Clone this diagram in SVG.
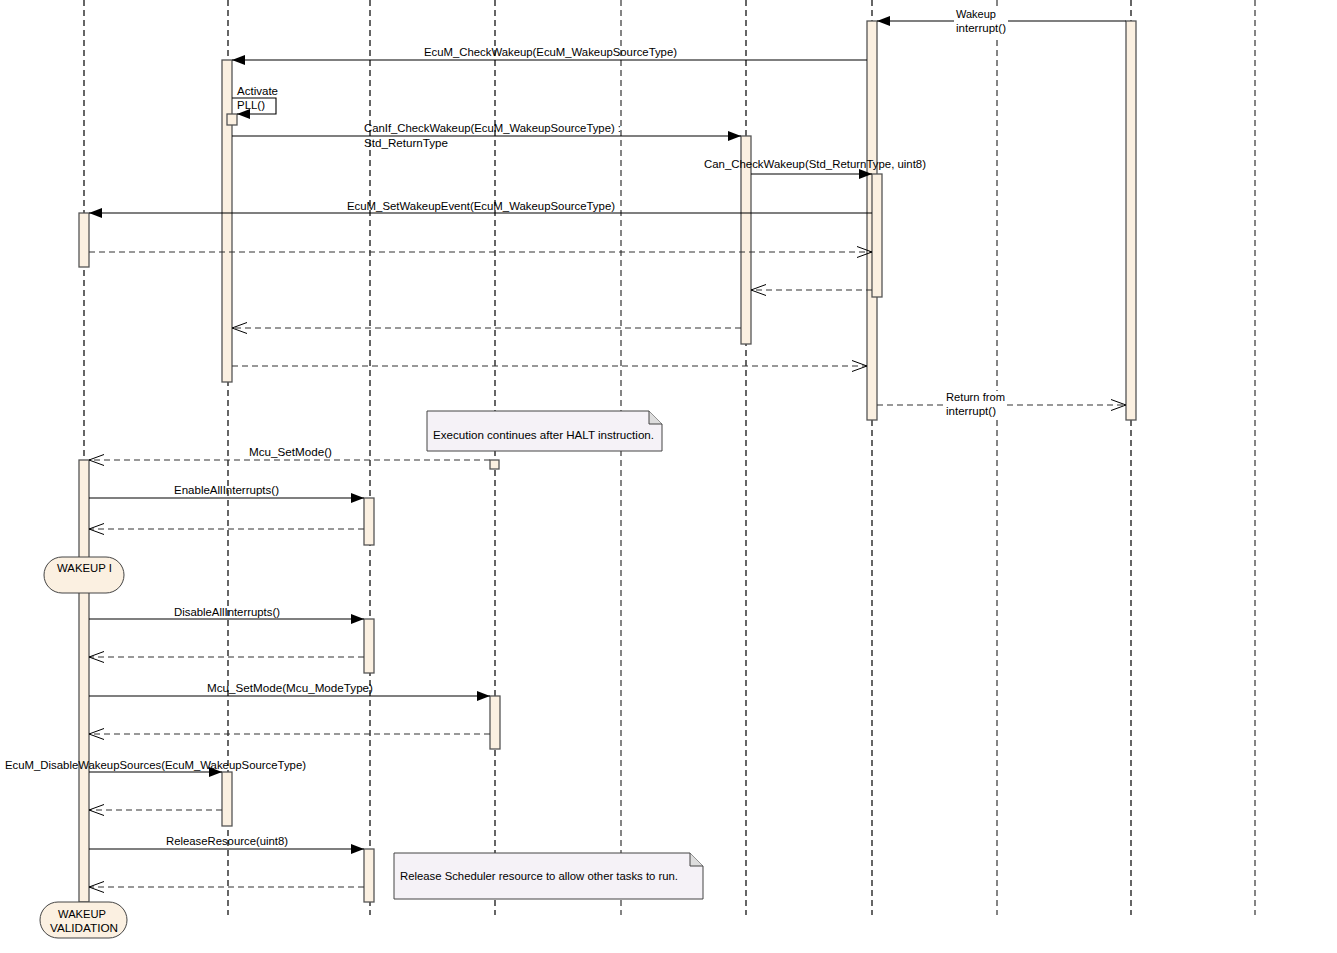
<svg xmlns="http://www.w3.org/2000/svg" width="1337" height="953" viewBox="0 0 1337 953">
<style>
text{font-family:"Liberation Sans",Arial,sans-serif;font-size:11px;fill:#000}
.ll{stroke:#000;stroke-width:1.2;stroke-dasharray:6,4;fill:none}
.llg{stroke:#666;stroke-width:1.6;stroke-dasharray:6,4;fill:none}
.act{fill:#FBF0E1;stroke:#555;stroke-width:1.3}
.msg{stroke:#000;stroke-width:1.1;fill:none}
.ret{stroke:#333;stroke-width:1.1;stroke-dasharray:6,4;fill:none}
.note{fill:#F5F2F7;stroke:#444;stroke-width:1}
.pill{fill:#FBF0E1;stroke:#444;stroke-width:1}
</style>
<defs>
<marker id="fa" markerWidth="14" markerHeight="10" refX="13" refY="5" orient="auto" markerUnits="userSpaceOnUse"><path d="M0,0 L13,5 L0,10 Z" fill="#000"/></marker>
<marker id="oa" markerWidth="16" markerHeight="12" refX="15" refY="6" orient="auto" markerUnits="userSpaceOnUse"><path d="M0,0.5 L15,6 L0,11.5" fill="none" stroke="#000" stroke-width="1"/></marker>
</defs>
<g id="lifelines">
<line class="ll" x1="84" y1="0" x2="84" y2="915"/>
<line class="ll" x1="228" y1="0" x2="228" y2="915"/>
<line class="ll" x1="370" y1="0" x2="370" y2="915"/>
<line class="ll" x1="495" y1="0" x2="495" y2="915"/>
<line class="llg" x1="621" y1="0" x2="621" y2="915"/>
<line class="ll" x1="746" y1="0" x2="746" y2="915"/>
<line class="ll" x1="872" y1="0" x2="872" y2="915"/>
<line class="llg" x1="997" y1="0" x2="997" y2="915"/>
<line class="ll" x1="1131" y1="0" x2="1131" y2="915"/>
<line class="llg" x1="1255" y1="0" x2="1255" y2="915"/>
</g>
<g id="activations">
<rect class="act" x="222" y="60" width="10" height="322"/>
<rect class="act" x="867" y="21" width="10" height="399"/>
<rect class="act" x="1126" y="21" width="10" height="399"/>
<rect class="act" x="741" y="136" width="10" height="208"/>
<rect class="act" x="872" y="174" width="10" height="123"/>
<rect class="act" x="79" y="213" width="10" height="54"/>
<rect class="act" x="227" y="114" width="10" height="11"/>
<rect class="act" x="79" y="460" width="10" height="442"/>
<rect class="act" x="490" y="460" width="9" height="9"/>
<rect class="act" x="364" y="498" width="10" height="47"/>
<rect class="act" x="364" y="619" width="10" height="54"/>
<rect class="act" x="490" y="696" width="10" height="53"/>
<rect class="act" x="222" y="772" width="10" height="54"/>
<rect class="act" x="364" y="849" width="10" height="53"/>
</g>
<g id="connectors">
<line class="msg" x1="1126" y1="21" x2="877" y2="21" marker-end="url(#fa)"/>
<line class="msg" x1="867" y1="60" x2="232" y2="60" marker-end="url(#fa)"/>
<path class="msg" d="M232,98 H276 V114 H237" marker-end="url(#fa)"/>
<line class="msg" x1="232" y1="136" x2="741" y2="136" marker-end="url(#fa)"/>
<line class="msg" x1="751" y1="174" x2="872" y2="174" marker-end="url(#fa)"/>
<line class="msg" x1="872" y1="213" x2="89" y2="213" marker-end="url(#fa)"/>
<line class="ret" x1="89" y1="252" x2="872" y2="252" marker-end="url(#oa)"/>
<line class="ret" x1="872" y1="290" x2="751" y2="290" marker-end="url(#oa)"/>
<line class="ret" x1="741" y1="328" x2="232" y2="328" marker-end="url(#oa)"/>
<line class="ret" x1="232" y1="366" x2="867" y2="366" marker-end="url(#oa)"/>
<line class="ret" x1="877" y1="405" x2="1126" y2="405" marker-end="url(#oa)"/>
<line class="ret" x1="490" y1="460" x2="89" y2="460" marker-end="url(#oa)"/>
<line class="msg" x1="89" y1="498" x2="364" y2="498" marker-end="url(#fa)"/>
<line class="ret" x1="364" y1="529" x2="89" y2="529" marker-end="url(#oa)"/>
<line class="msg" x1="89" y1="619" x2="364" y2="619" marker-end="url(#fa)"/>
<line class="ret" x1="364" y1="657" x2="89" y2="657" marker-end="url(#oa)"/>
<line class="msg" x1="89" y1="696" x2="490" y2="696" marker-end="url(#fa)"/>
<line class="ret" x1="490" y1="734" x2="89" y2="734" marker-end="url(#oa)"/>
<line class="msg" x1="89" y1="772" x2="222" y2="772" marker-end="url(#fa)"/>
<line class="ret" x1="222" y1="810" x2="89" y2="810" marker-end="url(#oa)"/>
<line class="msg" x1="89" y1="849" x2="364" y2="849" marker-end="url(#fa)"/>
<line class="ret" x1="364" y1="887" x2="89" y2="887" marker-end="url(#oa)"/>
</g>
<g id="labels">
<rect x="954" y="8" width="54" height="28" fill="#fff"/>
<text x="956" y="18" textLength="40" lengthAdjust="spacingAndGlyphs">Wakeup</text>
<text x="956" y="32" textLength="50" lengthAdjust="spacingAndGlyphs">interrupt()</text>
<text x="424" y="56" textLength="253" lengthAdjust="spacingAndGlyphs">EcuM_CheckWakeup(EcuM_WakeupSourceType)</text>
<text x="237" y="95" textLength="41" lengthAdjust="spacingAndGlyphs">Activate</text>
<text x="237" y="109" textLength="28" lengthAdjust="spacingAndGlyphs">PLL()</text>
<text x="364" y="132" textLength="257" lengthAdjust="spacingAndGlyphs">CanIf_CheckWakeup(EcuM_WakeupSourceType) :</text>
<text x="364" y="147" textLength="84" lengthAdjust="spacingAndGlyphs">Std_ReturnType</text>
<text x="704" y="168" textLength="222" lengthAdjust="spacingAndGlyphs">Can_CheckWakeup(Std_ReturnType, uint8)</text>
<text x="347" y="210" textLength="268" lengthAdjust="spacingAndGlyphs">EcuM_SetWakeupEvent(EcuM_WakeupSourceType)</text>
<rect x="944" y="391" width="63" height="28" fill="#fff"/>
<text x="946" y="401" textLength="59" lengthAdjust="spacingAndGlyphs">Return from</text>
<text x="946" y="415" textLength="50" lengthAdjust="spacingAndGlyphs">interrupt()</text>
<text x="249" y="456" textLength="83" lengthAdjust="spacingAndGlyphs">Mcu_SetMode()</text>
<text x="174" y="494" textLength="105" lengthAdjust="spacingAndGlyphs">EnableAllInterrupts()</text>
<text x="174" y="616" textLength="106" lengthAdjust="spacingAndGlyphs">DisableAllInterrupts()</text>
<text x="207" y="692" textLength="166" lengthAdjust="spacingAndGlyphs">Mcu_SetMode(Mcu_ModeType)</text>
<text x="5" y="769" textLength="301" lengthAdjust="spacingAndGlyphs">EcuM_DisableWakeupSources(EcuM_WakeupSourceType)</text>
<text x="166" y="845" textLength="122" lengthAdjust="spacingAndGlyphs">ReleaseResource(uint8)</text>
</g>
<g id="note1">
<path class="note" d="M427,411 H649 L662,424 V451 H427 Z"/>
<path d="M649,411 V424 H662" fill="#ddd" stroke="#444" stroke-width="1"/>
<text x="433" y="439" textLength="221" lengthAdjust="spacingAndGlyphs">Execution continues after HALT instruction.</text>
</g>
<g id="note2">
<path class="note" d="M394,853 H690 L703,866 V899 H394 Z"/>
<path d="M690,853 V866 H703" fill="#ddd" stroke="#444" stroke-width="1"/>
<text x="400" y="880" textLength="278" lengthAdjust="spacingAndGlyphs">Release Scheduler resource to allow other tasks to run.</text>
</g>
<g id="wakeup1">
<rect class="pill" x="44" y="557" width="80" height="36" rx="18" ry="18"/>
<text x="57" y="572" textLength="55" lengthAdjust="spacingAndGlyphs">WAKEUP I</text>
</g>
<g id="wakeupValidation">
<rect class="pill" x="40" y="902" width="87" height="36" rx="18" ry="18"/>
<text x="58" y="918" textLength="48" lengthAdjust="spacingAndGlyphs">WAKEUP</text>
<text x="50" y="932" textLength="68" lengthAdjust="spacingAndGlyphs">VALIDATION</text>
</g>
</svg>
